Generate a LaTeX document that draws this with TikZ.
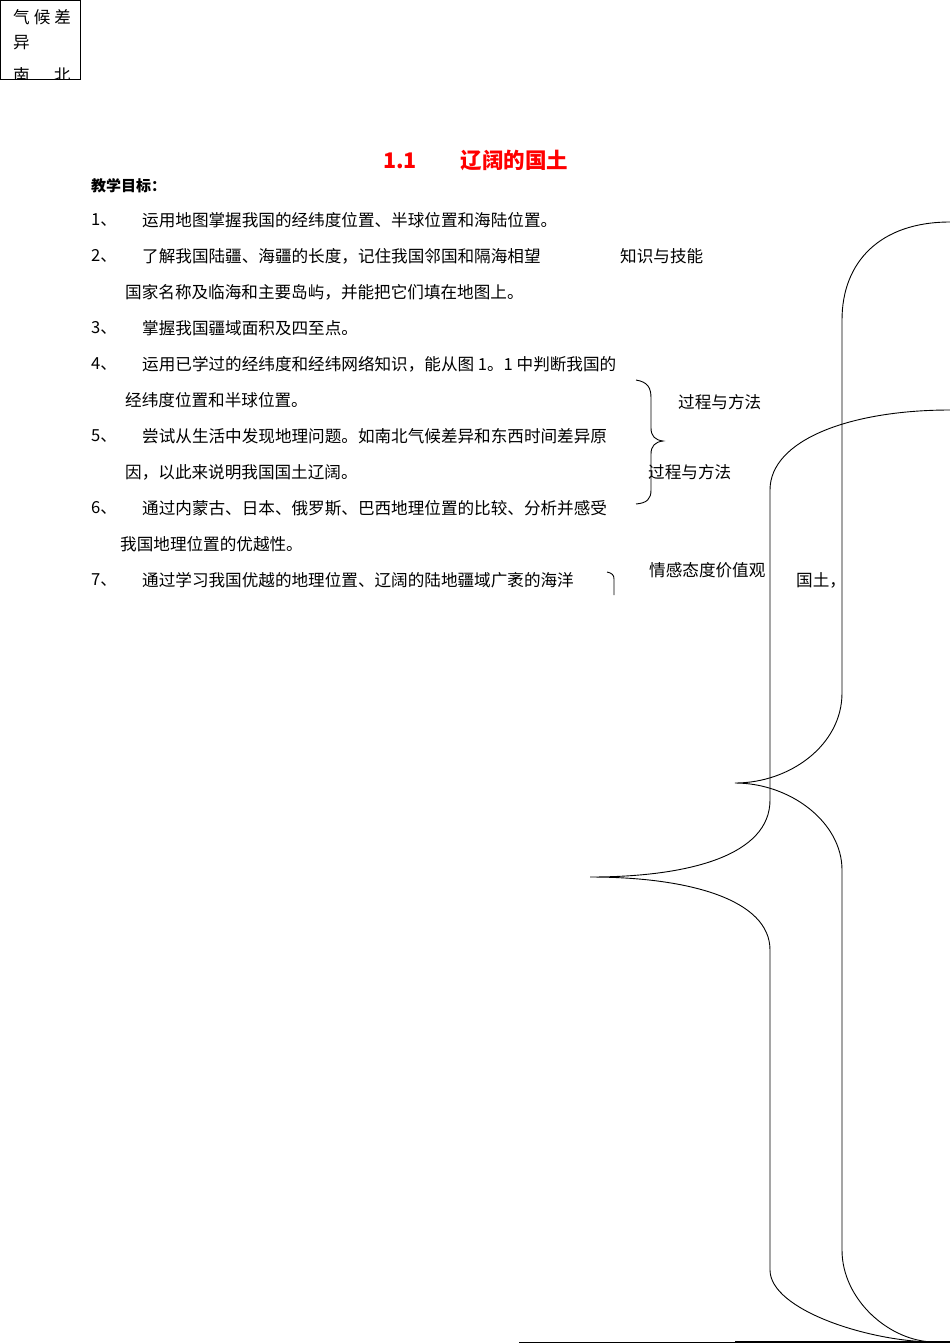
\documentclass[tikz,border=0pt]{standalone}
\usepackage{fontspec}
\newfontfamily\cjk{Noto Sans CJK SC}
\begin{document}
\begin{tikzpicture}[x=1pt,y=-1pt,
  txt/.style={anchor=west,inner sep=0pt,font=\cjk\fontsize{16.6}{16.6}\selectfont},
  curve/.style={line width=0.9pt}]
\useasboundingbox (0,0) rectangle (950,1344);
% top-left box
\node[draw,line width=0.8pt,minimum width=80,minimum height=79,anchor=north west,inner sep=0pt] (box) at (0,0) {};
\begin{scope}
\clip (0,0) rectangle (80,79);
\node[txt] (b1) at (13,17) {气\hspace{4pt}候\hspace{4pt}差};
\node[txt] (b2) at (13,43) {异};
\node[txt] (b3) at (13,75) {南\hspace{24pt}北};
\end{scope}
% title
\node[anchor=west,inner sep=0pt,text=red,font=\cjk\bfseries\fontsize{21.5}{21.5}\selectfont] (title) at (383,160) {1.1\hspace{44pt}辽阔的国土};
\node[txt,font=\cjk\bfseries\fontsize{15}{15}\selectfont] (goal) at (91,186) {教学目标：};
% lines
\foreach \n/\y/\t in {1/220/运用地图掌握我国的经纬度位置、半球位置和海陆位置。,
 2/256/了解我国陆疆、海疆的长度，记住我国邻国和隔海相望,
 3/328/掌握我国疆域面积及四至点。,
 4/364/运用已学过的经纬度和经纬网络知识，能从图 1。1 中判断我国的,
 5/436/尝试从生活中发现地理问题。如南北气候差异和东西时间差异原,
 6/508/通过内蒙古、日本、俄罗斯、巴西地理位置的比较、分析并感受,
 7/580/通过学习我国优越的地理位置、辽阔的陆地疆域广袤的海洋}{
  \node[txt] (num\n) at (91,\y) {\n、};
  \node[txt] (l\n) at (142,\y) {\t};
}
\node[txt] (c2) at (125,292) {国家名称及临海和主要岛屿，并能把它们填在地图上。};
\node[txt] (c4) at (125,400) {经纬度位置和半球位置。};
\node[txt] (c5) at (125,472) {因，以此来说明我国国土辽阔。};
\node[txt] (c6) at (120,544) {我国地理位置的优越性。};
% side labels
\node[txt] (k1) at (620,256) {知识与技能};
\node[txt] (k2) at (678,402) {过程与方法};
\node[txt] (k3) at (648,472) {过程与方法};
\node[txt] (k4) at (649,570) {情感态度价值观};
\node[txt] (k5) at (796,580) {国土，};
% small brace
\draw[curve] (636,380) .. controls (648,382) and (651,388) .. (651,398) -- (651,428)
  .. controls (651,436) and (655,440) .. (663,441)
  .. controls (655,442) and (651,446) .. (651,454) -- (651,490)
  .. controls (651,499) and (647,503) .. (636,504);
\draw[curve] (607,572) .. controls (612,573) and (614,575) .. (614,579) -- (614,595);
% big brace A
\draw[curve] (950,222) .. controls (880,222) and (842,262) .. (842,320) -- (842,693)
  .. controls (842,745) and (790,783) .. (735,783)
  .. controls (790,783) and (842,822) .. (842,870) -- (842,1250)
  .. controls (842,1300) and (890,1342) .. (935,1342);
% big brace B
\draw[curve] (950,410) .. controls (850,410) and (770,440) .. (770,490) -- (770,800)
  .. controls (770,855) and (690,877) .. (590,877)
  .. controls (690,877) and (770,900) .. (770,950) -- (770,1270)
  .. controls (770,1310) and (870,1342) .. (935,1342);
% bottom line
\draw[line width=0.8pt] (519,1342) -- (950,1342);
\draw[line width=1.5pt] (735,1342) -- (950,1342);
\end{tikzpicture}
\end{document}
